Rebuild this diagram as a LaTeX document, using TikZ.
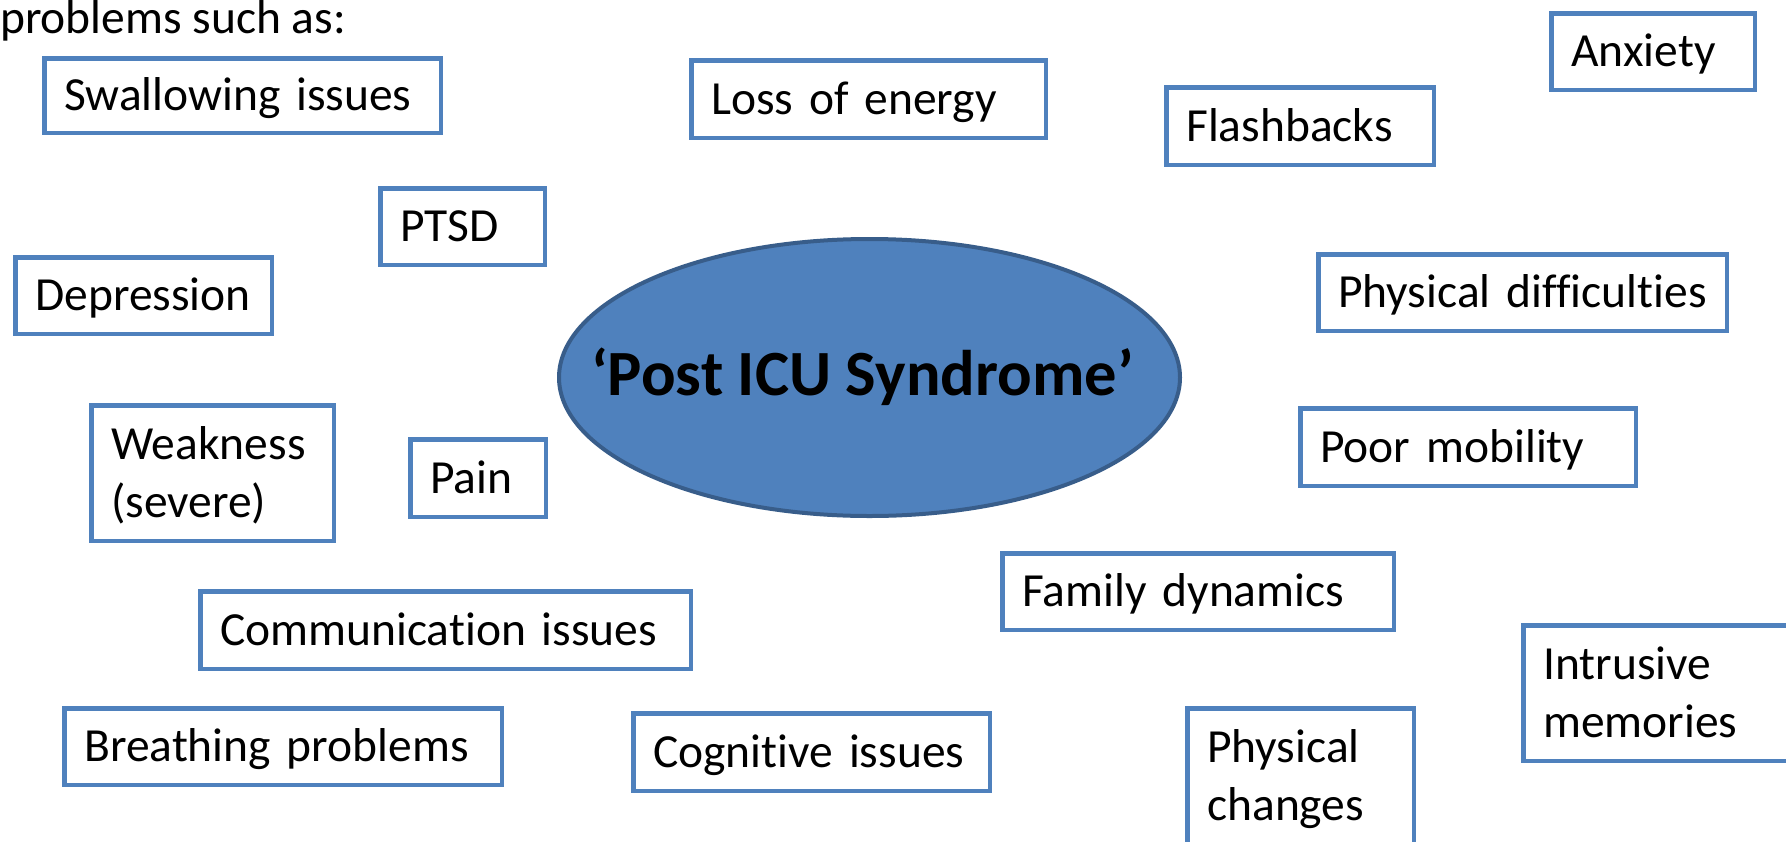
\documentclass[tikz,border=0pt]{standalone}
\usepackage{fontspec}
\setmainfont{Carlito}[Ligatures=NoCommon]
\usetikzlibrary{shapes.geometric}
\definecolor{boxblue}{HTML}{4F81BD}
\definecolor{edgeblue}{HTML}{385D8A}
\tikzset{
  symbox/.style={draw=boxblue, line width=4.5pt, fill=white, inner xsep=20pt, inner ysep=0pt,
    align=left, text height=30pt, text depth=0pt, font=\fontsize{47.5}{58}\selectfont},
  twoline/.style={text depth=58pt},
  hub/.style={ellipse, draw=edgeblue, line width=4pt, fill=boxblue, inner sep=0pt},
  hubtext/.style={font=\fontsize{64.5}{78}\selectfont\bfseries, inner sep=0pt, anchor=base},
  plaintext/.style={font=\fontsize{47.5}{58}\selectfont, inner sep=0pt, anchor=base west}
}
% name, options, x1, y1, x2, y2 (outer edges, px), text
\newcommand{\symptombox}[7]{%
  \pgfmathsetmacro\bw{#5-#3-4.5}%
  \pgfmathsetmacro\bh{#6-#4-4.5}%
  \pgfmathsetmacro\tw{#5-#3-4.5-40}%
  \pgfmathsetmacro\bcx{(#3+#5)/2}%
  \pgfmathsetmacro\bcy{(#4+#6)/2}%
  \node[symbox, #2, minimum width=\bw pt, minimum height=\bh pt, text width=\tw pt] (#1) at (\bcx,\bcy) {#7};%
}
\begin{document}
\begin{tikzpicture}[x=1pt,y=-1pt]
\useasboundingbox (0,0) rectangle (1786,841);

\node[plaintext] (intro) at (0,33) {problems such as:};

\node[hub, minimum width=621pt, minimum height=277pt] (core) at (869.5,377.5) {};
\node[hubtext] (title) at (862.5,395) {‘Post ICU Syndrome’};

\symptombox{swallow}{}{42}{56}{443}{135}{\mbox{Swallowing issues}}
\symptombox{loss}{}{689}{58}{1048}{140}{\mbox{Loss of energy}}
\symptombox{flash}{}{1164}{85}{1436}{167}{\mbox{Flashbacks}}
\symptombox{anxiety}{}{1549}{11}{1757}{92}{\mbox{Anxiety}}
\symptombox{ptsd}{}{378}{186}{547}{267}{\mbox{PTSD}}
\symptombox{depression}{}{13}{255}{274}{336}{\mbox{Depression}}
\symptombox{physdiff}{}{1316}{252}{1729}{333}{\mbox{Physical difficulties}}
\symptombox{weak}{twoline}{89}{403}{336}{543}{\mbox{Weakness}\\\mbox{(severe)}}
\symptombox{pain}{}{408}{437}{548}{519}{\mbox{Pain}}
\symptombox{poor}{}{1298}{406}{1638}{488}{\mbox{Poor mobility}}
\symptombox{family}{}{1000}{551}{1396}{632}{\mbox{Family dynamics}}
\symptombox{comm}{}{198}{589}{693}{671}{\mbox{Communication issues}}
\symptombox{breath}{}{62}{706}{504}{787}{\mbox{Breathing problems}}
\symptombox{cog}{}{631}{711}{992}{793}{\mbox{Cognitive issues}}
\symptombox{intrusive}{twoline}{1521}{623}{1800}{763}{\mbox{Intrusive}\\\mbox{memories}}
\symptombox{physch}{twoline}{1185}{706}{1416}{846}{\mbox{Physical}\\\mbox{changes}}
\end{tikzpicture}
\end{document}
